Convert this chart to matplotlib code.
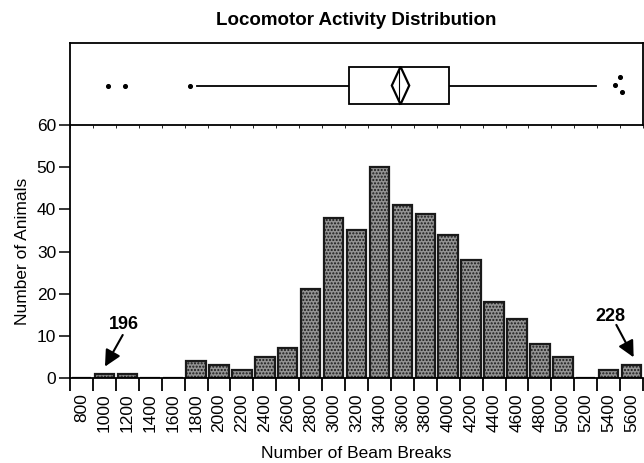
import matplotlib
matplotlib.use("Agg")
import matplotlib.pyplot as plt
from matplotlib.patches import Rectangle, Polygon

plt.rcParams['font.family'] = ['Liberation Sans', 'DejaVu Sans']

# histogram bins (centres) and counts
bin_centers = [800, 1000, 1200, 1400, 1600, 1800, 2000, 2200, 2400, 2600, 2800, 3000,
               3200, 3400, 3600, 3800, 4000, 4200, 4400, 4600, 4800, 5000, 5200, 5400, 5600]
counts = [0, 1, 1, 0, 0, 4, 3, 2, 5, 7, 21, 38,
          35, 50, 41, 39, 34, 28, 18, 14, 8, 5, 0, 2, 3]
tick_labels = [str(c) for c in bin_centers]

# box plot summary
q1, median, q3 = 3138, 3570, 4011
mean, mean_ci = 3584, 76
whisker_lo, whisker_hi = 1806, 5292
outliers_x = [1034, 1180, 1748, 5502, 5458, 5516]
outliers_y = [0.48, 0.48, 0.48, 0.58, 0.49, 0.40]

# labelled animals: label, label position, arrow tail, arrow tip
note_labels = ["196", "228"]
note_text_xy = [(1174, 12.6), (5414, 14.7)]
note_tail_xy = [(1160, 10.2), (5467, 12.6)]
note_tip_xy = [(1005, 2.7), (5618, 4.9)]

fig = plt.figure(figsize=(6.44, 4.63), dpi=100)
ax = fig.add_axes([0.1087, 0.1836, 0.8898, 0.5464])
axb = fig.add_axes([0.1087, 0.73, 0.8898, 0.1771], sharex=ax)

bw = 200
ax.bar(bin_centers, counts, width=bw * 0.85, facecolor='#939393', edgecolor='#1a1a1a',
       linewidth=1.6, hatch='.....', zorder=2)
ax.set_xlim(700, 5700)
ax.set_ylim(0, 60)
ax.set_yticks(range(0, 61, 10))
ax.set_xticks(bin_centers)
ax.set_xticklabels(tick_labels, rotation=90, fontsize=12.5)
ax.set_xticks(list(range(700, 5701, bw)), minor=True)
ax.tick_params(axis='x', which='major', length=0, pad=11)
ax.tick_params(axis='x', which='minor', length=9, width=1.3, direction='out')
ax.tick_params(axis='y', length=8, width=1.1, labelsize=12.5, pad=2)
ax.spines['right'].set_visible(False)
ax.spines['top'].set_visible(False)
ax.spines['left'].set_linewidth(1.3)
ax.spines['bottom'].set_linewidth(1.3)
ax.set_xlabel("Number of Beam Breaks", fontsize=12.5, labelpad=10)
ax.set_ylabel("Number of Animals", fontsize=12.5, labelpad=5)

# arrows to the outlying animals
arrow = dict(arrowstyle='-|>,head_length=0.7,head_width=0.35', color='k', lw=1.5,
             mutation_scale=14, shrinkA=0, shrinkB=0)
for lab, txy, tail, tip in zip(note_labels, note_text_xy, note_tail_xy, note_tip_xy):
    ax.text(txy[0], txy[1], lab, ha='center', va='center', fontsize=13, fontweight='bold')
    ax.annotate('', xy=tip, xytext=tail, arrowprops=arrow, annotation_clip=False)

# box plot panel
box_lo, box_hi = 0.252, 0.711
mid = (box_lo + box_hi) / 2
axb.set_ylim(0, 1)
axb.add_patch(Rectangle((q1, box_lo), q3 - q1, box_hi - box_lo, facecolor='white',
                        edgecolor='k', linewidth=1.3, zorder=3))
axb.plot([median, median], [box_lo, box_hi], color='k', lw=0.8, zorder=4)
axb.add_patch(Polygon([(mean - mean_ci, mid), (mean, box_hi), (mean + mean_ci, mid), (mean, box_lo)],
                      closed=True, facecolor='none', edgecolor='k', linewidth=1.6, zorder=5))
axb.plot([whisker_lo, q1], [mid, mid], color='k', lw=1.3)
axb.plot([q3, whisker_hi], [mid, mid], color='k', lw=1.3)
axb.scatter(outliers_x, outliers_y, s=7, color='k', zorder=4)
axb.tick_params(left=False, bottom=False, labelleft=False, labelbottom=False)
for s in axb.spines.values():
    s.set_linewidth(1.3)
axb.set_title("Locomotor Activity Distribution", fontsize=13.5, fontweight='bold', pad=13)

fig.savefig("out.png", dpi=100)
